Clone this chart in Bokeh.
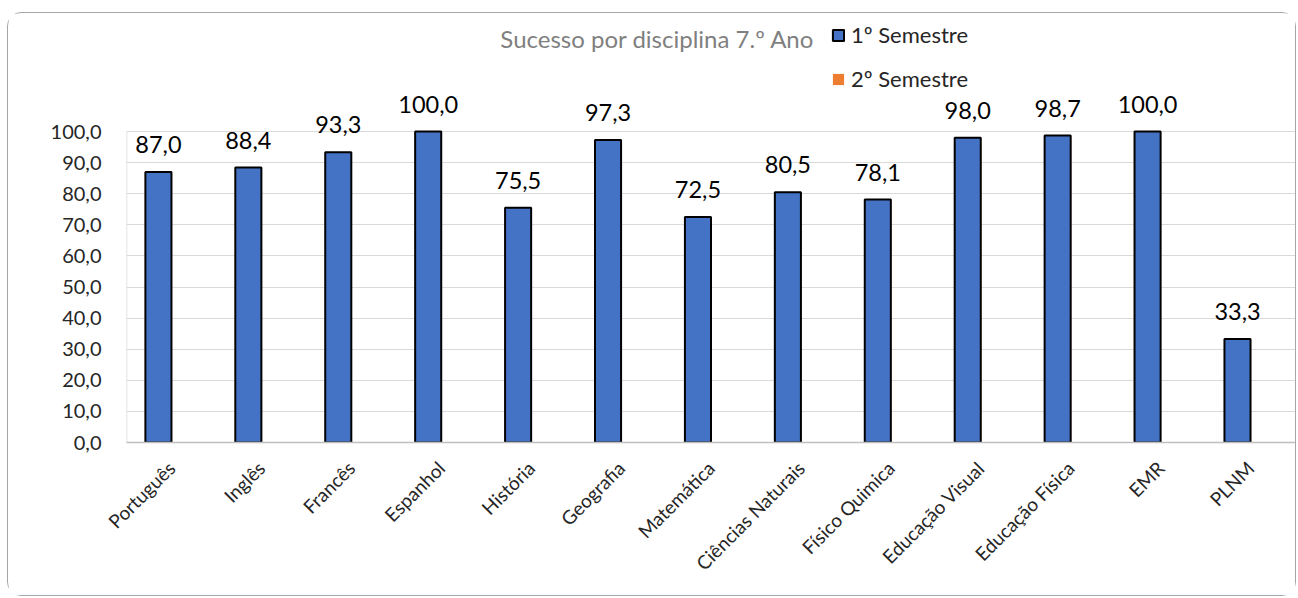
from math import pi
from bokeh.plotting import figure
from bokeh.models import (ColumnDataSource, LabelSet, Label, Legend, LegendItem,
                          CustomJSTickFormatter, FixedTicker, Range1d, FactorRange)
from bokeh.transform import dodge
from bokeh.embed import file_html
from bokeh.resources import INLINE
from bokeh.core.properties import value

# ---- data ----
categories = ["Português", "Inglês", "Francês", "Espanhol", "História", "Geografia",
              "Matemática", "Ciências Naturais", "Físico Quimica", "Educação Visual",
              "Educação Física", "EMR", "PLNM"]
sem1 = [87.0, 88.4, 93.3, 100.0, 75.5, 97.3, 72.5, 80.5, 78.1, 98.0, 98.7, 100.0, 33.3]
sem2 = [None, None, None, None, None, None, None, None, None, None, None, None, None]
y_ticks = [0, 10, 20, 30, 40, 50, 60, 70, 80, 90, 100]
series_names = ["1º Semestre", "2º Semestre"]
title_text = "Sucesso por disciplina 7.º Ano"

FONT = "Lato"
BAR_W = 0.29

# layout (pixels)
W, H = 1289, 584
ML, MR, MT, MB = 118, 2, 0, 155
frame_h = H - MT - MB
px_per_unit = 311 / (y_ticks[-1] - y_ticks[0])
y_end = frame_h / px_per_unit

sem1_labels = [f"{v:.1f}".replace(".", ",") for v in sem1]
src1 = ColumnDataSource(dict(cat=categories, v=sem1, lab=sem1_labels))
src2 = ColumnDataSource(dict(cat=categories, v=[float("nan") if s is None else s for s in sem2]))

p = figure(x_range=FactorRange(*categories), y_range=Range1d(0, y_end),
           width=W, height=H, output_backend="svg", toolbar_location=None,
           min_border_left=ML, min_border_right=MR, min_border_top=MT,
           min_border_bottom=MB)
p.styles = {"border": "1px solid #a6a6a6", "border-radius": "14px",
            "margin-left": "7px", "margin-top": "12px"}
p.outline_line_color = None
p.background_fill_color = "white"
p.border_fill_color = "white"

# grid / axes
p.xgrid.visible = False
p.ygrid.ticker = FixedTicker(ticks=y_ticks)
p.ygrid.grid_line_color = "#d9d9d9"
p.ygrid.grid_line_width = 1

# left axis line only from first to last tick
axsrc = ColumnDataSource(dict(cat=[categories[0]], y0=[y_ticks[0]], y1=[y_ticks[-1]]))
p.segment(x0=dodge("cat", -0.5, range=p.x_range), y0="y0",
          x1=dodge("cat", -0.5, range=p.x_range), y1="y1",
          source=axsrc, line_color="#d9d9d9", line_width=1.5)

r1 = p.vbar(x=dodge("cat", -BAR_W / 2, range=p.x_range), top="v", width=BAR_W,
            source=src1, fill_color="#4472C4", line_color="black", line_width=2)
r2 = p.vbar(x=dodge("cat", BAR_W / 2, range=p.x_range), top="v", width=BAR_W,
            source=src2, fill_color="#ED7D31", line_color=None)

labels = LabelSet(x=dodge("cat", -BAR_W / 2, range=p.x_range), y="v", text="lab",
                  source=src1, text_align="center", text_baseline="bottom",
                  y_offset=19, text_font=value(FONT), text_font_size=value("23.5px"),
                  text_color="#000000")
p.add_layout(labels)

p.yaxis.ticker = FixedTicker(ticks=y_ticks)
p.yaxis.formatter = CustomJSTickFormatter(code="return tick.toFixed(1).replace('.', ',');")
p.yaxis.axis_line_color = None
p.yaxis.major_tick_line_color = None
p.yaxis.minor_tick_line_color = None
p.yaxis.major_label_text_font = FONT
p.yaxis.major_label_text_font_size = "20px"
p.yaxis.major_label_text_color = "#262626"
p.yaxis.major_label_standoff = 19

p.xaxis.axis_line_color = "#bfbfbf"
p.xaxis.axis_line_width = 1.5
p.xaxis.major_tick_line_color = None
p.xaxis.minor_tick_line_color = None
p.xaxis.major_label_orientation = pi / 4
p.xaxis.major_label_text_font = FONT
p.xaxis.major_label_text_font_size = "19px"
p.xaxis.major_label_text_color = "#262626"
p.xaxis.major_label_standoff = 16

# title
title = Label(x=531, y=404, x_units="screen", y_units="screen", text=title_text,
              text_align="center", text_baseline="middle", text_font=FONT,
              text_font_size="24px", text_color="#7f7f7f")
p.add_layout(title)

legend = Legend(items=[LegendItem(label=series_names[0], renderers=[r1]),
                       LegendItem(label=series_names[1], renderers=[r2])],
                location=(705, 350), orientation="vertical",
                glyph_width=14, glyph_height=14, label_standoff=6, spacing=17,
                padding=0, margin=0, border_line_color=None,
                background_fill_alpha=0, label_text_font=FONT,
                label_text_font_size="22px", label_text_color="#262626")
p.add_layout(legend)

open("out.html", "w").write(file_html(p, INLINE))
